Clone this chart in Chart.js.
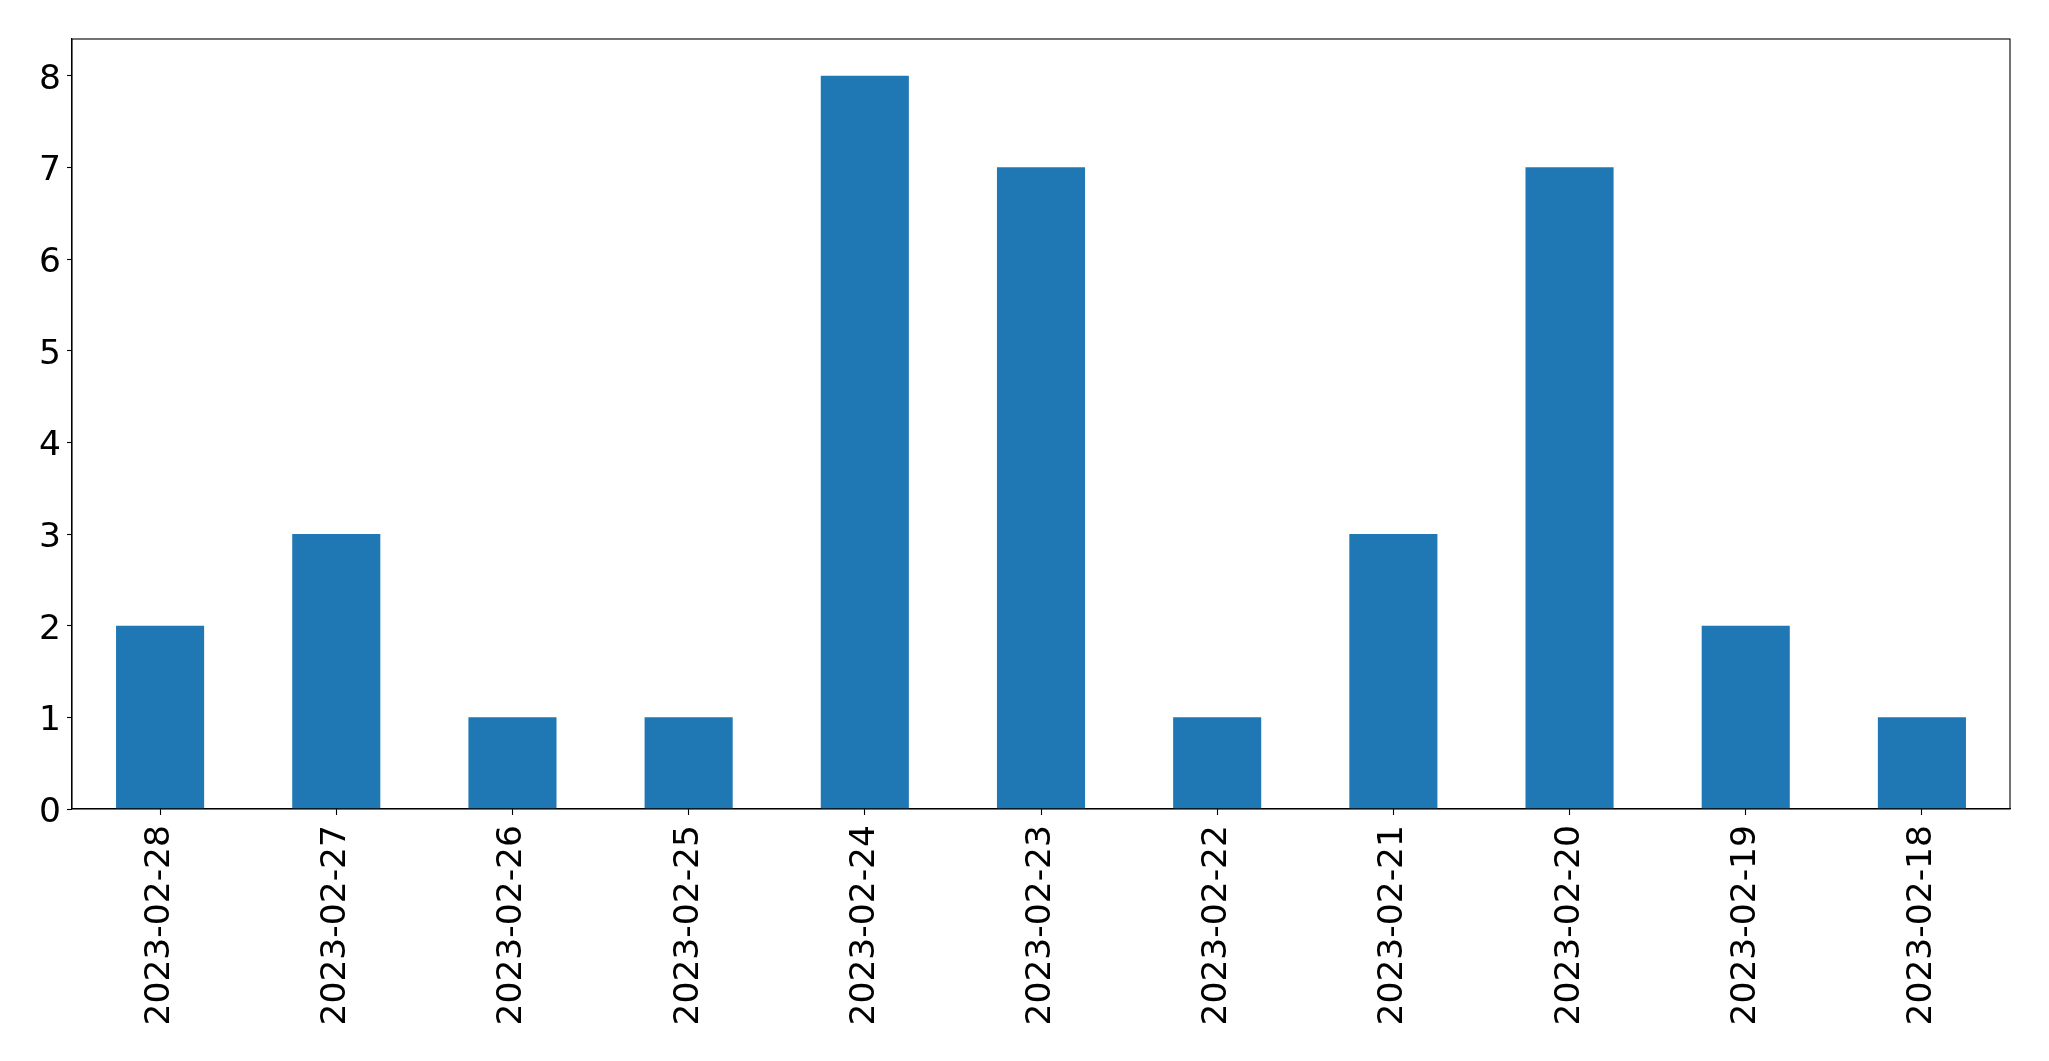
<!DOCTYPE html>
<html>
<head>
<meta charset="utf-8">
<script src="https://cdn.jsdelivr.net/npm/chart.js@4/dist/chart.umd.min.js"></script>
<style>
html,body{margin:0;padding:0;background:#fff;}
#wrap{width:2049px;height:1061px;position:relative;}
</style>
</head>
<body>
<div id="wrap"><canvas id="c" width="2049" height="1061"></canvas></div>
<script>
const categories = ["2023-02-28","2023-02-27","2023-02-26","2023-02-25","2023-02-24","2023-02-23","2023-02-22","2023-02-21","2023-02-20","2023-02-19","2023-02-18"];
const counts = [2,3,1,1,8,7,1,3,7,2,1];
const yTickValues = [0,1,2,3,4,5,6,7,8];

const frame = {
  id: 'frame',
  afterDraw(chart) {
    const {ctx, chartArea: a} = chart;
    ctx.save();
    ctx.strokeStyle = '#000';
    ctx.lineWidth = 1.1;
    ctx.strokeRect(a.left, a.top, a.right - a.left, a.bottom - a.top);
    ctx.restore();
  }
};

new Chart(document.getElementById('c'), {
  type: 'bar',
  data: {
    labels: categories,
    datasets: [{
      data: counts,
      backgroundColor: '#1f77b4',
      borderWidth: 0,
      barPercentage: 0.5,
      categoryPercentage: 1.0
    }]
  },
  options: {
    responsive: false,
    animation: false,
    devicePixelRatio: 1,
    layout: { padding: { left: 0, right: 39, top: 39, bottom: 0 } },
    plugins: { legend: { display: false }, tooltip: { enabled: false } },
    scales: {
      x: {
        offset: true,
        grid: { display: true, offset: false, drawOnChartArea: false, drawTicks: true, tickLength: 6, color: '#000', tickWidth: 1.1 },
        border: { display: true, color: '#000', width: 1.1 },
        ticks: {
          autoSkip: false, minRotation: 90, maxRotation: 90, padding: 10,
          color: '#000', font: { family: 'DejaVu Sans', size: 34.5 }
        },
        afterFit(scale) { scale.height = 252; }
      },
      y: {
        min: 0, max: 8.4,
        afterBuildTicks(scale) { scale.ticks = yTickValues.map(v => ({ value: v })); },
        grid: { display: true, drawOnChartArea: false, drawTicks: true, tickLength: 5, color: '#000', tickWidth: 1.1 },
        border: { display: true, color: '#000', width: 1.1 },
        ticks: {
          padding: 6, labelOffset: 4, color: '#000', font: { family: 'DejaVu Sans', size: 34.5 }
        },
        afterFit(scale) { scale.width = 72; }
      }
    }
  },
  plugins: [frame]
});
</script>
</body>
</html>
